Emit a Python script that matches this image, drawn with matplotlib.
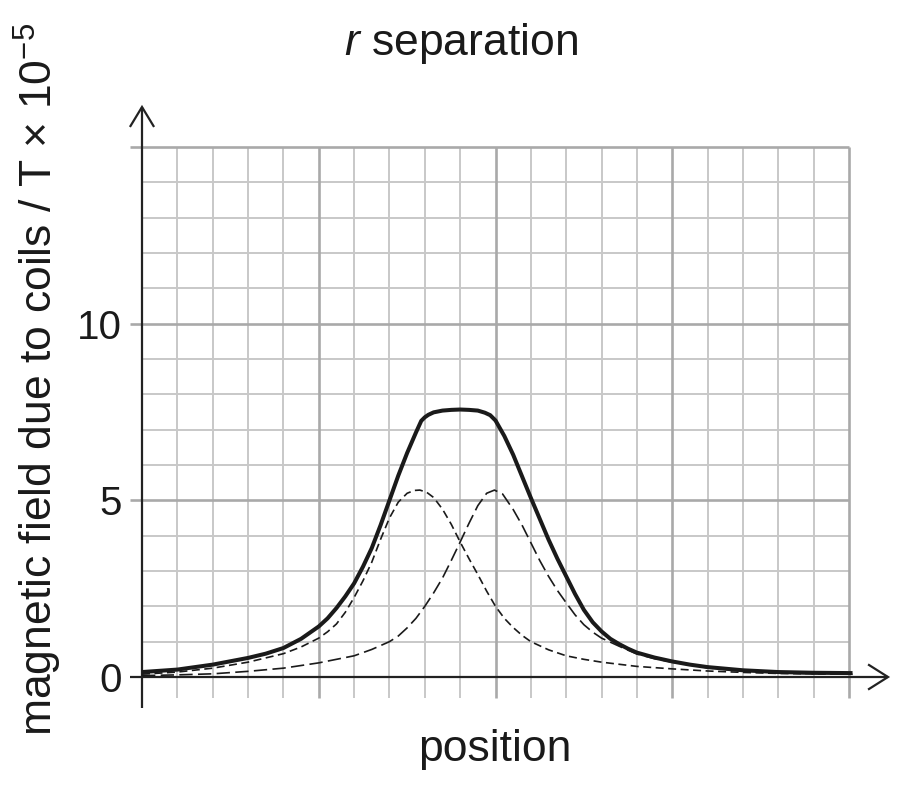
import matplotlib
matplotlib.use("Agg")
import matplotlib.pyplot as plt

plt.rcParams['font.family'] = ['Liberation Sans', 'DejaVu Sans']
plt.rcParams['mathtext.fontset'] = 'custom'
plt.rcParams['mathtext.rm'] = 'Liberation Sans'
plt.rcParams['mathtext.it'] = 'Liberation Sans:italic'

# ---- data ----
total_x = [0, 1, 2, 3, 3.5, 4, 4.5, 5, 5.25, 5.5, 5.75, 6, 6.25, 6.5, 6.75, 7, 7.25, 7.5, 7.75,
           7.9, 8, 8.1, 8.25, 8.5, 8.75, 9, 9.25, 9.5, 9.7, 9.85, 10, 10.25, 10.5, 10.75, 11,
           11.25, 11.5, 11.75, 12, 12.25, 12.5, 12.75, 13, 13.25, 13.5, 13.75, 14, 14.5, 15,
           15.5, 16, 17, 18, 19, 20.1]
total_y = [0.14, 0.21, 0.35, 0.54, 0.66, 0.82, 1.08, 1.43, 1.66, 1.95, 2.28, 2.65, 3.12, 3.65,
           4.3, 5.0, 5.7, 6.34, 6.92, 7.25, 7.35, 7.42, 7.49, 7.54, 7.56, 7.57, 7.56, 7.54,
           7.48, 7.41, 7.26, 6.82, 6.29, 5.68, 5.07, 4.48, 3.89, 3.35, 2.85, 2.35, 1.9, 1.55,
           1.29, 1.08, 0.93, 0.8, 0.69, 0.55, 0.44, 0.35, 0.28, 0.19, 0.14, 0.12, 0.11]

coil1_x = [0, 1, 2, 3, 4, 4.5, 5, 5.25, 5.5, 5.75, 6, 6.25, 6.5, 6.75, 7, 7.25, 7.5, 7.7,
           7.86, 8.05, 8.25, 8.5, 8.75, 9, 9.25, 9.5, 9.75, 10, 10.25, 10.5, 10.75, 11, 11.5,
           12, 12.5, 13, 14, 15, 16, 17, 18, 19, 20.1]
coil1_y = [0.08, 0.14, 0.25, 0.42, 0.66, 0.85, 1.1, 1.28, 1.5, 1.83, 2.25, 2.72, 3.25, 3.9,
           4.5, 4.95, 5.2, 5.28, 5.29, 5.23, 5.08, 4.75, 4.32, 3.82, 3.35, 2.9, 2.43, 2.0,
           1.66, 1.4, 1.18, 1.0, 0.77, 0.6, 0.5, 0.42, 0.3, 0.23, 0.17, 0.13, 0.1, 0.09, 0.08]

coil2_x = [0, 1, 2, 3, 4, 5, 6, 6.5, 7, 7.25, 7.5, 7.75, 8, 8.25, 8.5, 8.75, 9, 9.25, 9.5,
           9.75, 9.97, 10.2, 10.5, 10.75, 11, 11.25, 11.5, 11.75, 12, 12.25, 12.5, 12.75, 13,
           13.5, 14, 14.5, 15, 16, 17, 18, 19, 20.1]
coil2_y = [0.04, 0.06, 0.09, 0.16, 0.25, 0.4, 0.6, 0.78, 1.0, 1.16, 1.39, 1.66, 2.0, 2.38,
           2.8, 3.3, 3.82, 4.35, 4.85, 5.2, 5.29, 5.18, 4.74, 4.3, 3.8, 3.3, 2.85, 2.45, 2.1,
           1.76, 1.48, 1.27, 1.1, 0.87, 0.65, 0.52, 0.42, 0.26, 0.17, 0.12, 0.09, 0.08]

y_ticks = [0, 5, 10]
y_tick_labels = ['0', '5', '10']

title_text = '$\\mathit{r}$ separation'
x_label = 'position'
y_label = 'magnetic field due to coils / T \u00d7 $\\mathregular{10^{-5}}$'

# ---- figure ----
W, H = 908, 788
fig = plt.figure(figsize=(W / 100, H / 100), dpi=100)
ax = fig.add_axes([142 / W, (H - 677) / H, 707 / W, 530 / H])
ax.set_xlim(0, 20)
ax.set_ylim(0, 15)
for s in ax.spines.values():
    s.set_visible(False)
ax.set_xticks([])
ax.set_yticks(y_ticks)
ax.set_yticklabels(y_tick_labels)
ax.tick_params(axis='y', length=0, pad=14.5, labelsize=29, labelcolor='#1a1a1a')

px = 20 / 707.0   # data units per pixel, x
py = 15 / 530.0   # data units per pixel, y

minor_c, major_c = '#c8c8c8', '#a9a9a9'
# vertical grid lines
for i in range(1, 21):
    major = (i % 5 == 0)
    ax.plot([i, i], [-21 * py, 15], color=major_c if major else minor_c,
            lw=1.9 if major else 1.4, clip_on=False, zorder=1 if major else 0.5,
            solid_capstyle='butt')
# horizontal grid lines
for j in range(1, 16):
    major = (j % 5 == 0)
    x0 = -12 * px if major else 0
    ax.plot([x0, 20], [j, j], color=major_c if major else minor_c,
            lw=1.9 if major else 1.4, clip_on=False, zorder=1 if major else 0.5,
            solid_capstyle='butt')

axis_c = '#222222'
# axes with arrows
ax.plot([0, 0], [-31 * py, 570 * py], color=axis_c, lw=1.6, clip_on=False, zorder=3,
        solid_capstyle='butt')
ax.plot([-11.5 * px, 0, 11.5 * px], [551 * py, 570 * py, 551 * py], color=axis_c, lw=1.6,
        clip_on=False, zorder=3, solid_joinstyle='miter')
ax.plot([-12 * px, 746 * px], [0, 0], color=axis_c, lw=1.6, clip_on=False, zorder=3,
        solid_capstyle='butt')
ax.plot([727 * px, 746 * px, 727 * px], [12 * py, 0, -12 * py], color=axis_c, lw=1.6,
        clip_on=False, zorder=3, solid_joinstyle='miter')

# curves
ax.plot(coil1_x, coil1_y, color='#1a1a1a', lw=1.2, dashes=(4.8, 2.7), clip_on=False,
        zorder=4, solid_joinstyle='round')
ax.plot(coil2_x, coil2_y, color='#1a1a1a', lw=1.2, dashes=(8, 3.2), clip_on=False,
        zorder=4, solid_joinstyle='round')
ax.plot(total_x, total_y, color='#1a1a1a', lw=2.9, clip_on=False, zorder=5,
        solid_capstyle='butt', solid_joinstyle='round')

# texts
fig.text(461 / W, 1 - 55 / H, title_text, ha='center', va='baseline', fontsize=32,
         color='#1a1a1a')
fig.text(495 / W, 1 - 761 / H, x_label, ha='center', va='baseline', fontsize=32,
         color='#1a1a1a')
fig.text(53 / W, 1 - 379 / H, y_label, ha='center', va='baseline', rotation=90,
         rotation_mode='anchor', fontsize=32, color='#1a1a1a')

fig.savefig('out.png', dpi=100, facecolor='white')
